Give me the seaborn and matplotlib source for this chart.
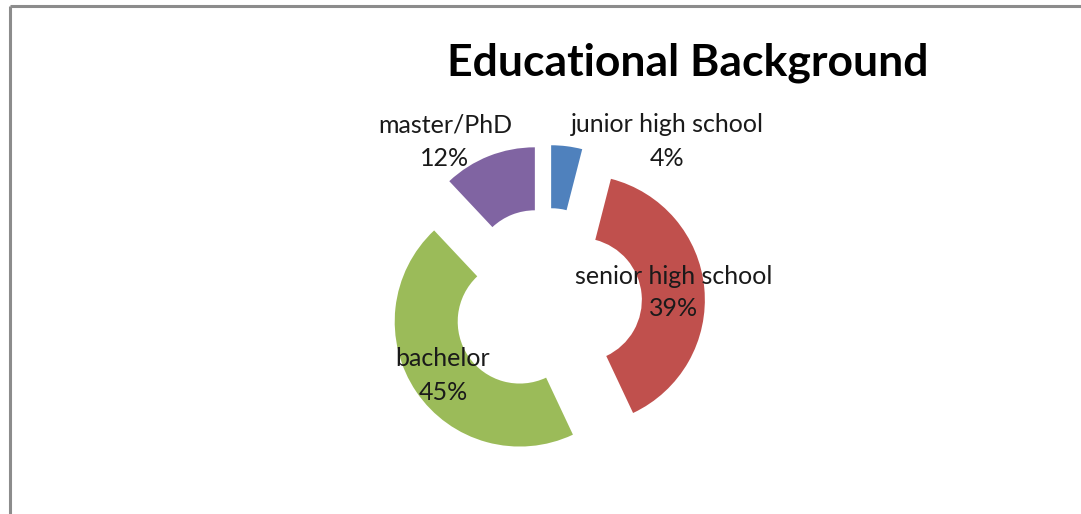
import matplotlib
matplotlib.use("Agg")
import matplotlib.pyplot as plt
import seaborn as sns

# Survey breakdown of respondents' education level
categories = ["junior high school", "senior high school", "bachelor", "master/PhD"]
shares = [4, 39, 45, 12]
percent_labels = ["4%", "39%", "45%", "12%"]
slice_colors = ["#4F81BD", "#C0504D", "#9BBB59", "#8064A2"]

sns.set_theme(style="white")
plt.rcParams["font.family"] = ["Lato", "DejaVu Sans"]

W, H = 1081, 514
fig = plt.figure(figsize=(W / 100, H / 100), dpi=100)
ax = fig.add_axes([0, 0, 1, 1])

# Exploded doughnut, drawn in pixel-like data units
cx, cy = 547, 211
outer_r, ring_w, gap = 125, 63, 33
ax.pie(shares, colors=slice_colors, startangle=90, counterclock=False,
       radius=outer_r, center=(cx, cy), explode=[gap] * len(shares),
       wedgeprops=dict(width=ring_w, linewidth=0))

ax.set_xlim(0, W)
ax.set_ylim(0, H)
ax.set_aspect("equal")
ax.axis("off")

# Data labels: category name over its percentage (top-down pixel rows)
label_pos = {
    "junior high school": (667, 125),
    "senior high school": (674, 276),
    "bachelor": (443, 359),
    "master/PhD": (445, 125),
}
line_step = 33
for name, pct in zip(categories, percent_labels):
    x, y = label_pos[name]
    ax.text(x, H - y, name, ha="center", va="center", fontsize=18,
            color="#1a1a1a")
    ax.text(x, H - y - line_step, pct, ha="center", va="center", fontsize=18,
            color="#1a1a1a")

ax.text(688, H - 63, "Educational Background", ha="center", va="center",
        fontsize=32, fontweight="bold", color="black")

# Chart frame (top and left edges)
ax.plot([9.5, W], [H - 5.5, H - 5.5], color="#8c8c8c", lw=2.2,
        solid_capstyle="butt", clip_on=False)
ax.plot([9.5, 9.5], [0, H - 5.5], color="#8c8c8c", lw=2.2,
        solid_capstyle="butt", clip_on=False)

fig.savefig("out.png", dpi=100, facecolor="white")
